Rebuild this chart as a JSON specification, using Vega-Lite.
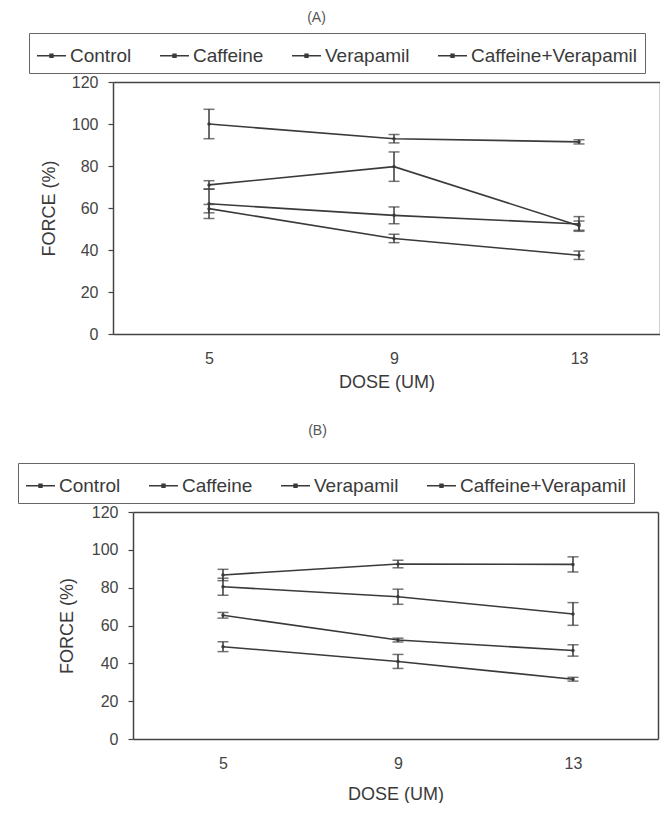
{
  "$schema": "https://vega.github.io/schema/vega-lite/v6.json",
  "background": "white",
  "padding": {"left": 17, "top": 10, "right": 0, "bottom": 0},
  "spacing": 32,
  "resolve": {"scale": {"color": "independent"}, "legend": {"color": "independent"}},
  "datasets": {
    "a": [
      {"dose": 5, "group": "Control", "force": 100, "err": 7},
      {"dose": 9, "group": "Control", "force": 93, "err": 2},
      {"dose": 13, "group": "Control", "force": 91.5, "err": 1},
      {"dose": 5, "group": "Caffeine", "force": 71, "err": 2},
      {"dose": 9, "group": "Caffeine", "force": 79.7, "err": 7},
      {"dose": 13, "group": "Caffeine", "force": 51.6, "err": 2.2},
      {"dose": 5, "group": "Verapamil", "force": 62, "err": 7},
      {"dose": 9, "group": "Verapamil", "force": 56.5, "err": 4},
      {"dose": 13, "group": "Verapamil", "force": 52.4, "err": 3.5},
      {"dose": 5, "group": "Caffeine+Verapamil", "force": 59.7, "err": 2},
      {"dose": 9, "group": "Caffeine+Verapamil", "force": 45.5, "err": 2},
      {"dose": 13, "group": "Caffeine+Verapamil", "force": 37.5, "err": 2}
    ],
    "b": [
      {"dose": 5, "group": "Control", "force": 86.7, "err": 3},
      {"dose": 9, "group": "Control", "force": 92.5, "err": 2},
      {"dose": 13, "group": "Control", "force": 92.3, "err": 4},
      {"dose": 5, "group": "Caffeine", "force": 80.5, "err": 4.5},
      {"dose": 9, "group": "Caffeine", "force": 75.2, "err": 4},
      {"dose": 13, "group": "Caffeine", "force": 66.1, "err": 6},
      {"dose": 5, "group": "Verapamil", "force": 65.4, "err": 1.5},
      {"dose": 9, "group": "Verapamil", "force": 52.3, "err": 1},
      {"dose": 13, "group": "Verapamil", "force": 46.8, "err": 3},
      {"dose": 5, "group": "Caffeine+Verapamil", "force": 48.8, "err": 2.6},
      {"dose": 9, "group": "Caffeine+Verapamil", "force": 41, "err": 3.7},
      {"dose": 13, "group": "Caffeine+Verapamil", "force": 31.6, "err": 1}
    ]
  },
  "vconcat": [
    {
      "width": 547,
      "height": 252,
      "title": {"text": "(A)", "fontSize": 14, "font": "Liberation Sans", "fontWeight": "normal", "color": "#555", "anchor": "middle", "dx": -70, "offset": 8},
      "data": {"name": "a"},
      "layer": [
        {
          "mark": {"type": "line", "strokeWidth": 1.6},
          "encoding": {
            "x": {"field": "dose", "type": "quantitative", "scale": {"domain": [2.924, 14.751], "nice": false, "zero": false},
              "axis": {"values": [5, 9, 13], "ticks": false, "labelPadding": 16, "title": "DOSE (UM)", "titlePadding": 7}},
            "y": {"field": "force", "type": "quantitative", "scale": {"domain": [0, 120], "nice": false},
              "axis": {"values": [0, 20, 40, 60, 80, 100, 120], "title": "FORCE (%)", "titlePadding": 13, "labelPadding": 10}},
            "color": {"field": "group", "type": "nominal",
              "scale": {"domain": ["Control", "Caffeine", "Verapamil", "Caffeine+Verapamil"], "range": ["#3a3a3a", "#3a3a3a", "#3a3a3a", "#3a3a3a"]},
              "legend": {"legendX": -84, "legendY": -49}}
          }
        },
        {
          "mark": {"type": "point", "filled": true, "size": 12, "color": "#3a3a3a", "opacity": 1},
          "encoding": {
            "x": {"field": "dose", "type": "quantitative", "axis": {"orient": "top", "labels": false, "ticks": false, "title": null}},
            "y": {"field": "force", "type": "quantitative", "axis": {"orient": "right", "labels": false, "ticks": false, "title": null}}
          }
        },
        {
          "mark": {"type": "errorbar", "ticks": {"size": 11}, "color": "#3a3a3a", "thickness": 1.5},
          "encoding": {
            "x": {"field": "dose", "type": "quantitative", "axis": null},
            "y": {"field": "force", "type": "quantitative", "axis": null},
            "yError": {"field": "err"},
            "detail": {"field": "group"}
          }
        }
      ],
      "resolve": {"axis": {"x": "independent", "y": "independent"}}
    },
    {
      "width": 545,
      "height": 227,
      "title": {"text": "(B)", "fontSize": 14, "font": "Liberation Sans", "fontWeight": "normal", "color": "#555", "anchor": "middle", "dx": -68, "offset": 25},
      "data": {"name": "b"},
      "layer": [
        {
          "mark": {"type": "line", "strokeWidth": 1.6},
          "encoding": {
            "x": {"field": "dose", "type": "quantitative", "scale": {"domain": [2.943, 14.943], "range": [20, 545], "nice": false, "zero": false},
              "axis": {"values": [5, 9, 13], "ticks": false, "labelPadding": 16, "title": "DOSE (UM)", "titlePadding": 14}},
            "y": {"field": "force", "type": "quantitative", "scale": {"domain": [0, 120], "nice": false},
              "axis": {"values": [0, 20, 40, 60, 80, 100, 120], "title": "FORCE (%)", "titlePadding": 15, "labelPadding": 10, "offset": -20}},
            "color": {"field": "group", "type": "nominal",
              "scale": {"domain": ["Control", "Caffeine", "Verapamil", "Caffeine+Verapamil"], "range": ["#3a3a3a", "#3a3a3a", "#3a3a3a", "#3a3a3a"]},
              "legend": {"legendX": -95, "legendY": -49}}
          }
        },
        {
          "mark": {"type": "point", "filled": true, "size": 12, "color": "#3a3a3a", "opacity": 1},
          "encoding": {
            "x": {"field": "dose", "type": "quantitative", "axis": {"orient": "top", "labels": false, "ticks": false, "title": null}},
            "y": {"field": "force", "type": "quantitative", "axis": {"orient": "right", "labels": false, "ticks": false, "title": null}}
          }
        },
        {
          "mark": {"type": "errorbar", "ticks": {"size": 11}, "color": "#3a3a3a", "thickness": 1.5},
          "encoding": {
            "x": {"field": "dose", "type": "quantitative", "axis": null},
            "y": {"field": "force", "type": "quantitative", "axis": null},
            "yError": {"field": "err"},
            "detail": {"field": "group"}
          }
        }
      ],
      "resolve": {"axis": {"x": "independent", "y": "independent"}}
    }
  ],
  "config": {
    "view": {"stroke": null},
    "font": "Liberation Sans",
    "axis": {
      "grid": false,
      "domainColor": "#444",
      "domainWidth": 1.5,
      "tickColor": "#444",
      "tickSize": 5,
      "tickWidth": 1.2,
      "labelFont": "Liberation Sans",
      "labelFontSize": 16,
      "labelColor": "#444",
      "titleFont": "Liberation Sans",
      "titleFontSize": 18,
      "titleFontWeight": "normal",
      "titleColor": "#3a3a3a",
      "labelFlush": false
    },
    "legend": {
      "orient": "none",
      "direction": "horizontal",
      "title": null,
      "labelFont": "Liberation Sans",
      "labelFontSize": 19,
      "labelColor": "#3a3a3a",
      "labelLimit": 400,
      "symbolType": "M-1,0H1M-0.1,-0.1H0.1V0.1H-0.1Z",
      "symbolSize": 841,
      "symbolStrokeWidth": 1.5,
      "columnPadding": 25,
      "labelOffset": 3,
      "strokeColor": "#666",
      "padding": 7
    }
  }
}
